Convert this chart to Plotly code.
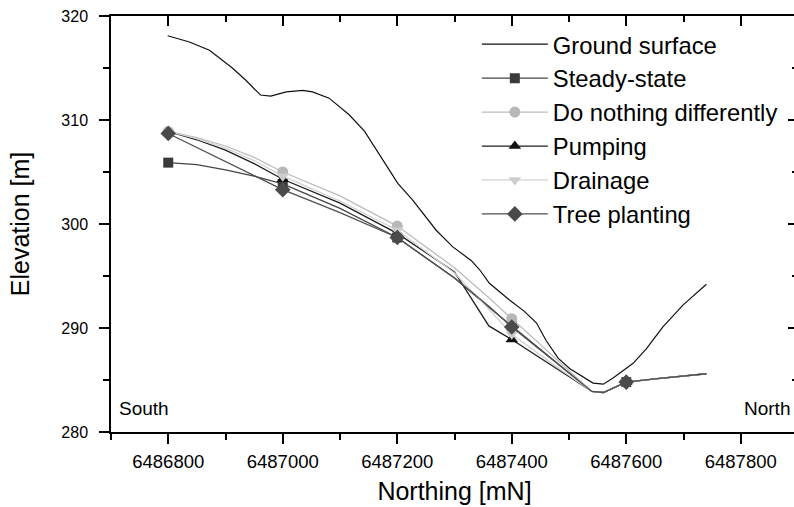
import plotly.graph_objects as go

# Ground surface profile
ground_x = [6486799, 6486837, 6486872, 6486912, 6486936, 6486961, 6486979, 6487006, 6487035,
            6487052, 6487081, 6487116, 6487143, 6487175, 6487201, 6487227, 6487268, 6487297,
            6487329, 6487344, 6487361, 6487396, 6487422, 6487443, 6487460, 6487481, 6487501,
            6487542, 6487560, 6487577, 6487612, 6487635, 6487664, 6487699, 6487740]
ground_y = [318.1, 317.5, 316.7, 315.0, 313.8, 312.4, 312.3, 312.7, 312.85,
            312.7, 312.1, 310.5, 308.9, 306.2, 303.9, 302.3, 299.4, 297.8,
            296.5, 295.6, 294.3, 292.7, 291.6, 290.5, 288.8, 287.1, 286.1,
            284.7, 284.6, 285.2, 286.6, 288.0, 290.1, 292.2, 294.2]

# Water table profiles (shared northing nodes)
scen_x = [6486800, 6486850, 6486900, 6486950, 6487000, 6487100, 6487200, 6487300, 6487360, 6487400,
          6487470, 6487540, 6487560, 6487600, 6487650, 6487700, 6487740]
steady_state = [305.9, 305.7, 305.2, 304.6, 303.85, 301.5, 298.7, 294.8, 292.0, 290.2,
                287.0, 283.9, 283.8, 284.8, 285.1, 285.4, 285.6]
do_nothing = [308.9, 308.3, 307.5, 306.4, 305.0, 302.7, 299.8, 295.8, 292.9, 290.9,
              287.4, 283.9, 283.8, 284.8, 285.1, 285.4, 285.6]
pumping = [308.9, 308.1, 307.1, 305.8, 304.3, 302.0, 299.1, 295.4, 290.2, 288.9,
           286.4, 283.9, 283.8, 284.8, 285.1, 285.4, 285.6]
drainage = [308.9, 308.2, 307.3, 306.1, 304.6, 302.2, 299.4, 295.3, 291.8, 289.4,
            286.6, 283.9, 283.8, 284.8, 285.1, 285.4, 285.6]
tree_planting = [308.7, 307.35, 306.0, 304.65, 303.3, 301.1, 298.7, 294.8, 292.1, 290.1,
                 287.0, 283.9, 283.8, 284.8, 285.1, 285.4, 285.6]

# Marker positions (northing) for scenario symbols
marker_x = [6486800, 6487000, 6487200, 6487400, 6487600]

series_names = ["Steady-state", "Do nothing differently", "Pumping", "Drainage", "Tree planting"]
series_vals = [steady_state, do_nothing, pumping, drainage, tree_planting]

x_ticks = [6486800, 6487000, 6487200, 6487400, 6487600, 6487800]
y_ticks = [280, 290, 300, 310, 320]

styles = {
    "Steady-state": dict(line="#454545", marker="#3a3a3a", symbol="square", size=10),
    "Do nothing differently": dict(line="#bcbcbc", marker="#b8b8b8", symbol="circle", size=11),
    "Pumping": dict(line="#1e1e1e", marker="#111111", symbol="triangle-up", size=11),
    "Drainage": dict(line="#d2d2d2", marker="#cdcdcd", symbol="triangle-down", size=11),
    "Tree planting": dict(line="#505050", marker="#4a4a4a", symbol="diamond", size=12),
}

FONT = "Liberation Sans, Arial, sans-serif"

fig = go.Figure()

fig.add_trace(go.Scatter(x=ground_x, y=ground_y, mode="lines", name="Ground surface",
                         line=dict(color="#111111", width=1.2), legendgroup="g0"))

for i, (name, vals) in enumerate(zip(series_names, series_vals)):
    st = styles[name]
    fig.add_trace(go.Scatter(x=scen_x, y=vals, mode="lines", showlegend=False,
                             line=dict(color=st["line"], width=1.3), hoverinfo="skip"))
    mx = [x for x in scen_x if x in marker_x]
    my = [v for x, v in zip(scen_x, vals) if x in marker_x]
    fig.add_trace(go.Scatter(x=mx, y=my, mode="markers", showlegend=False,
                             marker=dict(symbol=st["symbol"], size=st["size"], color=st["marker"],
                                         line=dict(width=0))))
    fig.add_trace(go.Scatter(x=[None], y=[None], mode="lines+markers", name=name,
                             legendgroup=f"g{i+1}",
                             line=dict(color=st["line"], width=1.3),
                             marker=dict(symbol=st["symbol"], size=st["size"], color=st["marker"],
                                         line=dict(width=0))))

# invisible trace to realise the mirrored (inside-tick) axes
fig.add_trace(go.Scatter(x=[ground_x[0]], y=[ground_y[0]], xaxis="x2", yaxis="y2",
                         mode="markers", marker=dict(opacity=0), showlegend=False,
                         hoverinfo="skip"))

xr = [6486700, 6487900]
yr = [280, 320]

axis_common = dict(showgrid=False, zeroline=False, showline=True, linecolor="black",
                   linewidth=1.5, tickcolor="black", tickwidth=1.5, automargin=False,
                   ticklabeloverflow="allow")

fig.update_layout(
    width=798, height=507,
    margin=dict(l=111, r=0, t=16, b=75),
    paper_bgcolor="white", plot_bgcolor="white",
    font=dict(family=FONT, color="black"),
    showlegend=True,
    legend=dict(x=0.5325, y=0.985, xanchor="left", yanchor="top",
                font=dict(size=23.8, family=FONT, color="black"),
                bgcolor="rgba(0,0,0,0)", borderwidth=0,
                traceorder="grouped", tracegroupgap=0, itemwidth=66),
    xaxis=dict(range=xr, tickvals=x_ticks, ticktext=[str(v) for v in x_ticks],
               ticks="outside", ticklen=10, ticklabelstandoff=2,
               minor=dict(dtick=100, tick0=6486700, ticks="outside", ticklen=6,
                          tickcolor="black", tickwidth=1.5),
               tickfont=dict(size=18.5, family=FONT),
               title=dict(text="Northing [mN]", font=dict(size=25, family=FONT), standoff=12),
               **axis_common),
    yaxis=dict(range=yr, tickvals=y_ticks, ticks="outside", ticklen=10, ticklabelstandoff=8,
               minor=dict(dtick=5, ticks="outside", ticklen=6,
                          tickcolor="black", tickwidth=1.5),
               tickfont=dict(size=16, family=FONT),
               title=dict(text="Elevation [m]", font=dict(size=25, family=FONT), standoff=25),
               **axis_common),
    xaxis2=dict(range=xr, overlaying="x", side="top", anchor="y2", tickvals=x_ticks,
                showticklabels=False, ticks="inside", ticklen=10,
                minor=dict(dtick=100, tick0=6486700, ticks="inside", ticklen=6,
                           tickcolor="black", tickwidth=1.5),
                **axis_common),
    yaxis2=dict(range=yr, overlaying="y", side="right", anchor="x2", tickvals=y_ticks,
                showticklabels=False, ticks="inside", ticklen=10,
                minor=dict(dtick=5, ticks="inside", ticklen=6,
                           tickcolor="black", tickwidth=1.5),
                **axis_common),
    annotations=[
        dict(text="South", x=6486710, y=282.3, xref="x", yref="y", xanchor="left",
             yanchor="middle", showarrow=False, font=dict(size=19, family=FONT)),
        dict(text="North", x=0.991, y=282.3, xref="paper", yref="y", xanchor="right",
             yanchor="middle", showarrow=False, font=dict(size=19, family=FONT)),
    ],
)

fig.write_html(
    "out.html",
    config={"displayModeBar": False},
    post_script="document.body.style.margin='0';document.body.style.overflow='hidden';",
)
